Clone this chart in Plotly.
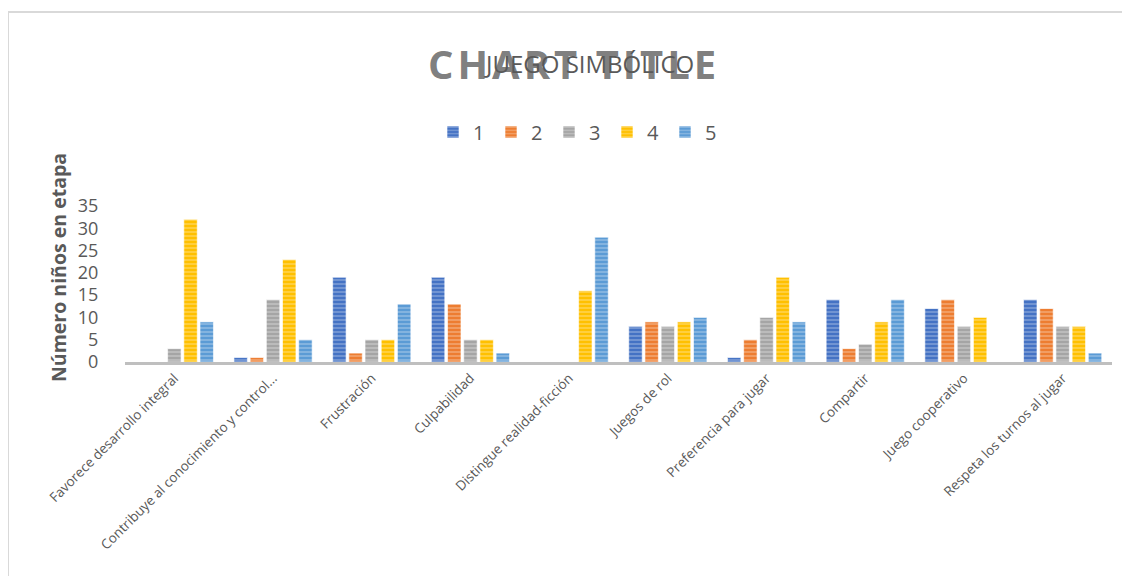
import plotly.graph_objects as go

categories = [
    "Favorece desarrollo integral",
    "Contribuye al conocimiento y control...",
    "Frustración",
    "Culpabilidad",
    "Distingue realidad-ficción",
    "Juegos de rol",
    "Preferencia para jugar",
    "Compartir",
    "Juego cooperativo",
    "Respeta los turnos al jugar",
]
series_names = ["1", "2", "3", "4", "5"]
s1 = [0, 1, 19, 19, 0, 8, 1, 14, 12, 14]
s2 = [0, 1, 2, 13, 0, 9, 5, 3, 14, 12]
s3 = [3, 14, 5, 5, 0, 8, 10, 4, 8, 8]
s4 = [32, 23, 5, 5, 16, 9, 19, 9, 10, 8]
s5 = [9, 5, 13, 2, 28, 10, 9, 14, 0, 2]
y_ticks = [0, 5, 10, 15, 20, 25, 30, 35]
colors = ["#4472C4", "#ED7D31", "#A5A5A5", "#FFC000", "#5B9BD5"]

OFF = 8  # page body margin
W, H = 1130, 576
# plot area in page pixels
PL, PR, PT, PB = 125, 1112, 206, 362
L = PL - OFF
T = PT - OFF
R = W - (PR - OFF)
B = H - (PB - OFF)
pw, ph = PR - PL, PB - PT

def px(x):
    return (x - PL) / pw

def py(y):
    return (PB - y) / ph

fig = go.Figure()
for name, vals, c in zip(series_names, [s1, s2, s3, s4, s5], colors):
    fig.add_trace(go.Bar(
        name=name, x=categories, y=vals,
        marker=dict(color=c,
                    line=dict(color="rgba(255,255,255,0.6)", width=1),
                    pattern=dict(shape="-", fgcolor="white", fgopacity=0.35,
                                 size=4, solidity=0.35)),
    ))

font = "Open Sans"
fig.update_layout(
    width=W, height=H,
    margin=dict(l=L, r=R, t=T, b=B),
    paper_bgcolor="white", plot_bgcolor="white",
    barmode="group", bargap=0.18, bargroupgap=0.17,
    font=dict(family=font, color="#595959"),
    showlegend=True,
    legend=dict(orientation="h", x=px(578), xanchor="center",
                y=py(132), yanchor="middle",
                font=dict(size=20, color="#595959"),
                itemwidth=30, entrywidth=13),
    xaxis=dict(showline=True, linecolor="#BFBFBF", linewidth=3,
               tickangle=-45, tickfont=dict(size=13.5, color="#595959"),
               showgrid=False, ticks=""),
    yaxis=dict(range=[0, 35], tickvals=y_ticks, showgrid=False,
               showline=False, zeroline=False,
               ticks="outside", ticklen=22, tickcolor="rgba(0,0,0,0)",
               tickfont=dict(size=18, color="#595959")),
)

hs = "\u200a"
fig.add_annotation(xref="paper", yref="paper", x=px(572), y=py(63),
                   text="<b>" + hs.join("CHART TITLE") + "</b>",
                   showarrow=False, xanchor="center", yanchor="middle",
                   font=dict(size=40, color="rgba(110,110,110,0.9)", family=font))
fig.add_annotation(xref="paper", yref="paper", x=px(589), y=py(63),
                   text="JUEGO SIMBÓLICO", showarrow=False,
                   xanchor="center", yanchor="middle",
                   font=dict(size=24, color="#595959", family=font))
fig.add_annotation(xref="paper", yref="paper", x=px(58), y=py(268),
                   text="<b>Número niños en etapa</b>", textangle=-90,
                   showarrow=False, xanchor="center", yanchor="middle",
                   font=dict(size=19.5, color="#595959", family=font))

# outer chart border
fig.add_shape(type="line", xref="paper", yref="paper",
              x0=px(8), x1=px(1145), y0=py(12), y1=py(12),
              line=dict(color="#D9D9D9", width=2))
fig.add_shape(type="line", xref="paper", yref="paper",
              x0=px(8), x1=px(8), y0=py(12), y1=py(590),
              line=dict(color="#D9D9D9", width=2))

fig.write_html("out.html")
